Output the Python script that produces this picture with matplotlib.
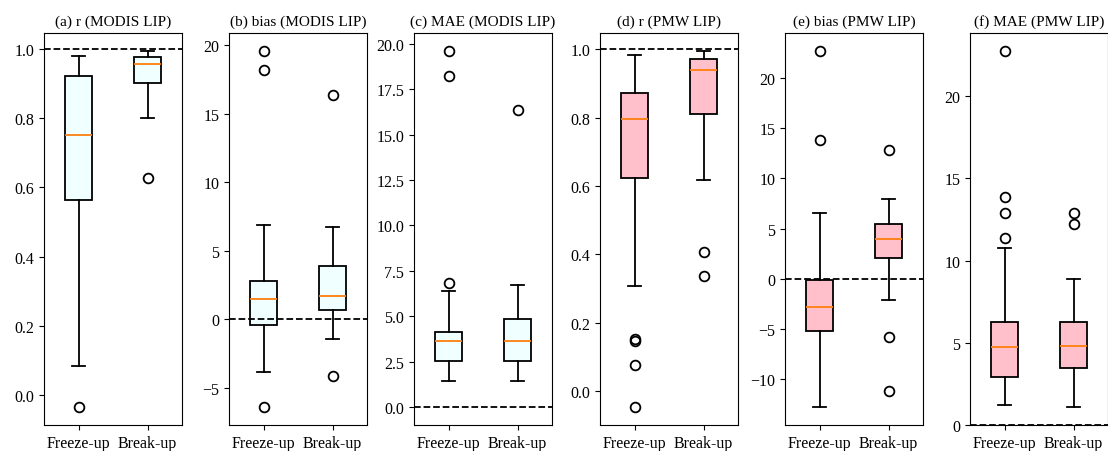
import matplotlib
matplotlib.use("Agg")
import matplotlib.pyplot as plt

plt.rcParams['font.family'] = ['Liberation Serif', 'DejaVu Serif']
plt.rcParams['font.size'] = 11.5

groups = ["Freeze-up", "Break-up"]
titles = ["(a) r (MODIS LIP)", "(b) bias (MODIS LIP)", "(c) MAE (MODIS LIP)",
          "(d) r (PMW LIP)", "(e) bias (PMW LIP)", "(f) MAE (PMW LIP)"]
ref_lines = [1.0, 0.0, 0.0, 1.0, 0.0, 0.0]
face_colors = ["azure", "azure", "azure", "pink", "pink", "pink"]

# box statistics per panel: [Freeze-up, Break-up]
whislo = [[0.085, 0.799], [-3.87, -1.45], [1.42, 1.42],
          [0.309, 0.617], [-12.84, -2.11], [1.24, 1.08]]
q1 = [[0.564, 0.900], [-0.40, 0.68], [2.54, 2.54],
      [0.623, 0.811], [-5.25, 2.04], [2.93, 3.44]]
med = [[0.750, 0.957], [1.44, 1.66], [3.65, 3.63],
       [0.797, 0.939], [-2.87, 3.91], [4.74, 4.80]]
q3 = [[0.922, 0.977], [2.79, 3.89], [4.15, 4.85],
      [0.873, 0.971], [-0.10, 5.46], [6.29, 6.29]]
whishi = [[0.980, 0.994], [6.87, 6.75], [6.40, 6.75],
          [0.984, 0.996], [6.59, 8.00], [10.75, 8.86]]
fliers = [
    [[-0.034], [0.626]],
    [[19.6, 18.2, -6.43], [16.36, -4.18]],
    [[19.61, 18.23, 6.84], [16.37]],
    [[0.152, 0.148, 0.077, -0.047], [0.406, 0.336]],
    [[22.75, 13.88], [12.88, -5.88, -11.27]],
    [[22.75, 13.87, 12.87, 11.36], [12.87, 12.24]],
]

fig = plt.figure(figsize=(11.08, 4.52), dpi=100)
ax_w = 138 / 1108
ax_h = (426 - 34) / 452
lefts_px = [44, 229, 414, 600, 785, 970]

for i in range(6):
    ax = fig.add_axes([lefts_px[i] / 1108, 1 - 426 / 452, ax_w, ax_h])
    stats = []
    for j in range(2):
        stats.append(dict(label=groups[j], whislo=whislo[i][j], q1=q1[i][j],
                          med=med[i][j], q3=q3[i][j], whishi=whishi[i][j],
                          fliers=fliers[i][j]))
    ax.bxp(stats, widths=0.4, patch_artist=True,
           boxprops=dict(facecolor=face_colors[i], edgecolor='black', linewidth=1.3),
           whiskerprops=dict(linewidth=1.3), capprops=dict(linewidth=1.3),
           medianprops=dict(color='tab:orange', linewidth=1.3),
           flierprops=dict(marker='o', markersize=7, markerfacecolor='none',
                           markeredgecolor='black', markeredgewidth=1.3))
    ax.axhline(ref_lines[i], color='black', linestyle='--', linewidth=1.3)
    if i == 5:
        ax.set_ylim(bottom=0)
    ax.set_title(titles[i], fontsize=11)

fig.savefig("out.png", dpi=100)
